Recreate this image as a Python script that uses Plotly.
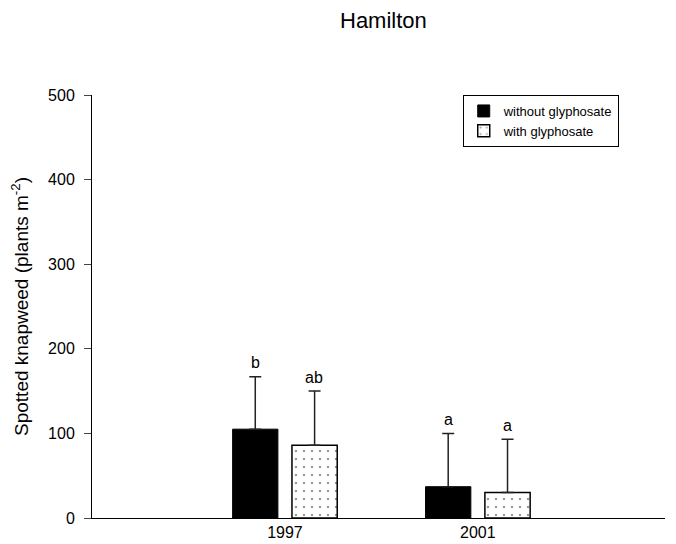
import plotly.graph_objects as go

years = ["1997", "2001"]
x_pos = [1, 2]
without_vals = [105, 37]
without_err = [62, 63]
with_vals = [86, 30]
with_err = [64, 63]
without_letters = ["b", "a"]
with_letters = ["ab", "a"]

err_style = dict(type="data", symmetric=False, color="#222222", thickness=1.5, width=6)

fig = go.Figure()
fig.add_trace(go.Bar(
    x=x_pos, y=without_vals, name="without glyphosate",
    marker=dict(color="black", line=dict(color="black", width=1)),
    error_y=dict(array=without_err, arrayminus=[0, 0], **err_style),
))
fig.add_trace(go.Bar(
    x=x_pos, y=with_vals, name="with glyphosate",
    marker=dict(color="white", line=dict(color="black", width=1.5),
                pattern=dict(shape=".", fgcolor="#333333", bgcolor="white", size=8, solidity=0.08)),
    error_y=dict(array=with_err, arrayminus=[0, 0], **err_style),
))

annotations = []
for i in range(len(x_pos)):
    annotations.append(dict(x=x_pos[i], y=without_vals[i] + without_err[i], xref="x", yref="y",
                            text=without_letters[i], showarrow=False, yshift=14, xshift=-29.5,
                            font=dict(size=16, color="black")))
    annotations.append(dict(x=x_pos[i], y=with_vals[i] + with_err[i], xref="x", yref="y",
                            text=with_letters[i], showarrow=False, yshift=14, xshift=29.5,
                            font=dict(size=16, color="black")))

# page body adds an 8px offset, so the figure is 8px smaller and margins shifted
fig.update_layout(
    width=668, height=536,
    margin=dict(l=84, r=11, t=87, b=26, autoexpand=False),
    paper_bgcolor="white", plot_bgcolor="white",
    font=dict(family="Liberation Sans, Arial, sans-serif", color="black"),
    title=dict(text="Hamilton", x=0.562, xanchor="center", y=0.978, yanchor="middle",
               font=dict(size=22)),
    barmode="group", bargap=0.385, bargroupgap=0.237,
    showlegend=True,
    legend=dict(x=0.647, y=1.0, xanchor="left", yanchor="top",
                bordercolor="black", borderwidth=1, bgcolor="white",
                font=dict(size=13), itemwidth=30, tracegroupgap=2,
                traceorder="normal"),
    annotations=annotations,
)
fig.update_xaxes(range=[0, 2.97], tickvals=x_pos, ticktext=years, showgrid=False,
                 showline=True, linecolor="black", linewidth=1, ticks="",
                 tickfont=dict(size=16), zeroline=False, automargin=False)
fig.update_yaxes(range=[0, 500], tickvals=[0, 100, 200, 300, 400, 500], showgrid=False,
                 showline=True, linecolor="black", linewidth=1, ticks="outside", ticklen=7,
                 ticklabelstandoff=6,
                 tickfont=dict(size=16), zeroline=False, automargin=False,
                 title=dict(text="Spotted knapweed (plants m<sup>-2</sup>)", font=dict(size=19), standoff=22))

fig.write_html("out.html")
